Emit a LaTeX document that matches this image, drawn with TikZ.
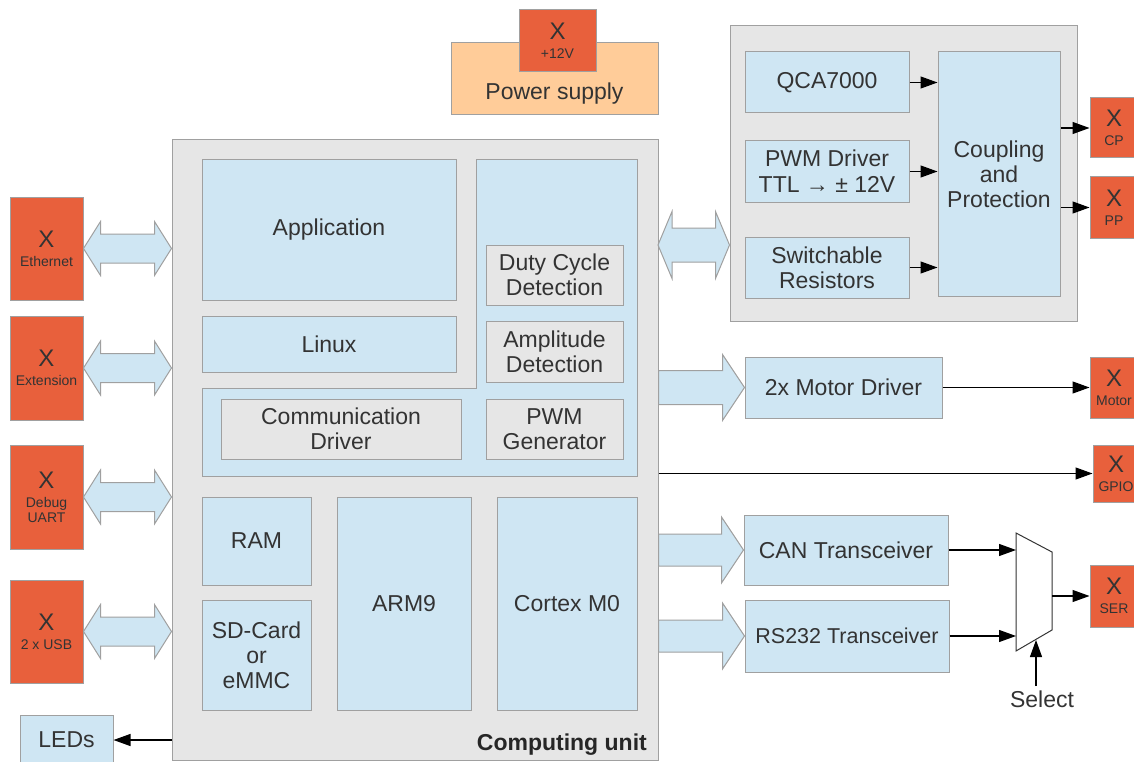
\documentclass[tikz,border=0pt]{standalone}
\usepackage{fontspec}
\setmainfont{Liberation Sans}
\usetikzlibrary{arrows.meta,calc}

\definecolor{conorange}{RGB}{232,96,60}
\definecolor{psupeach}{RGB}{255,204,153}
\definecolor{blkblue}{RGB}{207,230,243}
\definecolor{boxgray}{RGB}{230,230,230}
\definecolor{bordergray}{RGB}{160,160,160}
\definecolor{txtgray}{RGB}{51,51,51}

\tikzset{
  txt/.style={text=txtgray, font=\fontsize{23}{25}\selectfont, align=center, inner sep=0pt},
  blk/.style={txt, draw=bordergray, line width=1pt, fill=blkblue},
  grybox/.style={txt, draw=bordergray, line width=1pt, fill=boxgray},
  psubox/.style={draw=bordergray, line width=1pt, fill=psupeach},
  conbox/.style={draw=bordergray, line width=1pt, fill=conorange, text=txtgray, align=center,
    inner sep=0pt, font=\fontsize{14}{19}\selectfont},
  conn/.style={-{Triangle[length=17pt,width=12pt]}, line width=1.2pt, draw=black},
  barrow/.style={draw=bordergray, line width=1pt, fill=blkblue},
  dblarrow/.style n args={3}{to path={let \p1=(\tikztostart), \p2=(\tikztotarget) in
    -- (\x1+#1,\y1+#2) -- (\x1+#1,\y1+#3) -- (\x2-#1,\y1+#3) -- (\x2-#1,\y1+#2) -- (\x2,\y1)
    -- (\x2-#1,\y1-#2) -- (\x2-#1,\y1-#3) -- (\x1+#1,\y1-#3) -- (\x1+#1,\y1-#2) -- cycle}},
  sglarrow/.style n args={3}{to path={let \p1=(\tikztostart), \p2=(\tikztotarget) in
    (\x1,\y1+#3) -- (\x2-#1,\y1+#3) -- (\x2-#1,\y1+#2) -- (\x2,\y1)
    -- (\x2-#1,\y1-#2) -- (\x2-#1,\y1-#3) -- (\x1,\y1-#3) -- cycle}}
}
\newcommand{\conx}[1]{{\fontsize{24}{24}\selectfont X}\\#1}

\begin{document}
\begin{tikzpicture}[x=1pt,y=1pt,yscale=-1]
\useasboundingbox (0,0) rectangle (1134,762);

%Shape: Power supply
\node[psubox, minimum width=207pt, minimum height=72pt] (psu) at (554.5,79) {};
% Text Node
\node[txt] (psutxt) at (554.5,94) {Power supply};
\node[conbox, minimum width=77pt, minimum height=62pt] (v12) at (557.5,41) {\conx{+12V}};

%Shape: Computing unit
\node[grybox, minimum width=486pt, minimum height=620pt] (cpu) at (415,450) {};
% Text Node
\node[txt, font=\fontsize{23}{25}\selectfont\bfseries, text=black!85, anchor=base east] (cputxt) at (647,750) {Computing unit};

%Shape: Polygon
\draw[draw=bordergray, line width=1pt, fill=blkblue] (476,160) -- (637,160) -- (637,476) -- (202,476) -- (202,388) -- (476,388) -- cycle;

\node[blk, minimum width=254pt, minimum height=140pt] (app) at (329,230) {Application};
\node[blk, minimum width=254pt, minimum height=56pt] (linux) at (329,344) {Linux};
\node[grybox, minimum width=137pt, minimum height=60pt] (duty) at (554.5,275) {Duty Cycle\\Detection};
\node[grybox, minimum width=137pt, minimum height=61pt] (ampl) at (554.5,351.5) {Amplitude\\Detection};
\node[grybox, minimum width=137pt, minimum height=60pt] (pwmg) at (554.5,429) {PWM\\Generator};
\node[grybox, minimum width=240pt, minimum height=60pt] (comm) at (341,429) {Communication\\Driver};
\node[blk, minimum width=109pt, minimum height=88pt] (ram) at (256.5,541) {RAM};
\node[blk, minimum width=109pt, minimum height=110pt] (sd) at (256.5,655) {SD-Card\\or\\eMMC};
\node[blk, minimum width=134pt, minimum height=213pt] (arm) at (404,603.5) {ARM9};
\node[blk, minimum width=140pt, minimum height=213pt] (cortex) at (567,603.5) {Cortex M0};

%Shape: Connectors left
\node[conbox, minimum width=73pt, minimum height=103pt] (eth) at (46.5,248.5) {\conx{Ethernet}};
\node[conbox, minimum width=73pt, minimum height=104pt] (ext) at (46.5,368) {\conx{Extension}};
\node[conbox, minimum width=73pt, minimum height=104pt] (dbg) at (46.5,497) {\conx{Debug\\[-4pt]UART}};
\node[conbox, minimum width=73pt, minimum height=103pt] (usb) at (46.5,631.5) {\conx{2 x USB}};
\node[blk, minimum width=93pt, minimum height=50pt] (leds) at (66.5,740) {LEDs};

\draw[barrow] (eth.east) to[dblarrow={17pt}{27pt}{14.5pt}] (eth.east -| cpu.west);
\draw[barrow] (ext.east) to[dblarrow={17pt}{27pt}{14.5pt}] (ext.east -| cpu.west);
\draw[barrow] (dbg.east) to[dblarrow={17pt}{27pt}{14.5pt}] (dbg.east -| cpu.west);
\draw[barrow] (usb.east) to[dblarrow={17pt}{27pt}{14.5pt}] (usb.east -| cpu.west);
\draw[conn] (cpu.west |- leds.east) -- (leds.east);

%Shape: Control pilot group
\node[grybox, minimum width=347pt, minimum height=295pt] (grp) at (903.5,173.5) {};
\node[blk, minimum width=164pt, minimum height=61pt] (qca) at (827,82.5) {QCA7000};
\node[blk, minimum width=164pt, minimum height=61pt] (pwmd) at (827,171.5) {PWM Driver\\[1pt]TTL → ± 12V};
\node[blk, minimum width=164pt, minimum height=61pt] (swr) at (827,267.5) {Switchable\\Resistors};
\node[blk, minimum width=122pt, minimum height=244pt] (coup) at (999,174) {Coupling\\and\\Protection};
\node[conbox, minimum width=48pt, minimum height=60pt] (cp) at (1114,128) {\conx{CP}};
\node[conbox, minimum width=48pt, minimum height=61pt] (pp) at (1114,207.5) {\conx{PP}};

\draw[conn] (qca.east) -- (qca.east -| coup.west);
\draw[conn] (pwmd.east) -- (pwmd.east -| coup.west);
\draw[conn] (swr.east) -- (swr.east -| coup.west);
\draw[conn] (coup.east |- cp.west) -- (cp.west);
\draw[conn] (coup.east |- pp.west) -- (pp.west);
\coordinate (grplink) at (658,245);
\draw[barrow] (grplink) to[dblarrow={14pt}{33.5pt}{17pt}] (grplink -| grp.west);

%Shape: Drivers
\node[blk, minimum width=197pt, minimum height=61pt] (motor) at (843.5,387.5) {2x Motor Driver};
\node[conbox, minimum width=48pt, minimum height=61pt] (motc) at (1114,387.5) {\conx{Motor}};
\node[conbox, minimum width=46pt, minimum height=57pt] (gpio) at (1116,473.5) {\conx{GPIO}};
\node[blk, minimum width=204pt, minimum height=70pt] (can) at (846,550) {CAN Transceiver};
\node[blk, minimum width=204pt, minimum height=72pt, font=\fontsize{21.5}{25}\selectfont] (rs) at (847,636) {RS232 Transceiver};
\node[conbox, minimum width=48pt, minimum height=62pt] (ser) at (1114,596) {\conx{SER}};

\draw[barrow] (cpu.east |- motor.west) to[sglarrow={22pt}{33pt}{17pt}] (motor.west);
\draw[barrow] (cpu.east |- can.west) to[sglarrow={22pt}{33pt}{16pt}] (can.west);
\draw[barrow] (cpu.east |- rs.west) to[sglarrow={22pt}{33pt}{16pt}] (rs.west);
\draw[conn] (motor.east) -- (motc.west);
\draw[conn] (cpu.east |- gpio.west) -- (gpio.west);

%Shape: Multiplexer
\coordinate (mux1) at (1016,533);
\coordinate (mux2) at (1052,552);
\coordinate (mux3) at (1052,630);
\coordinate (mux4) at (1016,651);
\coordinate (seltip) at (1036,640);
\draw[line width=1pt, draw=black!80, fill=white] (mux1) -- (mux2) -- (mux3) -- (mux4) -- cycle;
% Text Node
\node[txt, anchor=base, inner sep=4pt] (sel) at (1042,707) {Select};

\draw[conn] (can.east) -- (can.east -| mux1);
\draw[conn] (rs.east) -- (rs.east -| mux1);
\draw[conn] (ser.west -| mux2) -- (ser.west);
\draw[conn] (seltip |- sel.north) -- (seltip);

\end{tikzpicture}
\end{document}
